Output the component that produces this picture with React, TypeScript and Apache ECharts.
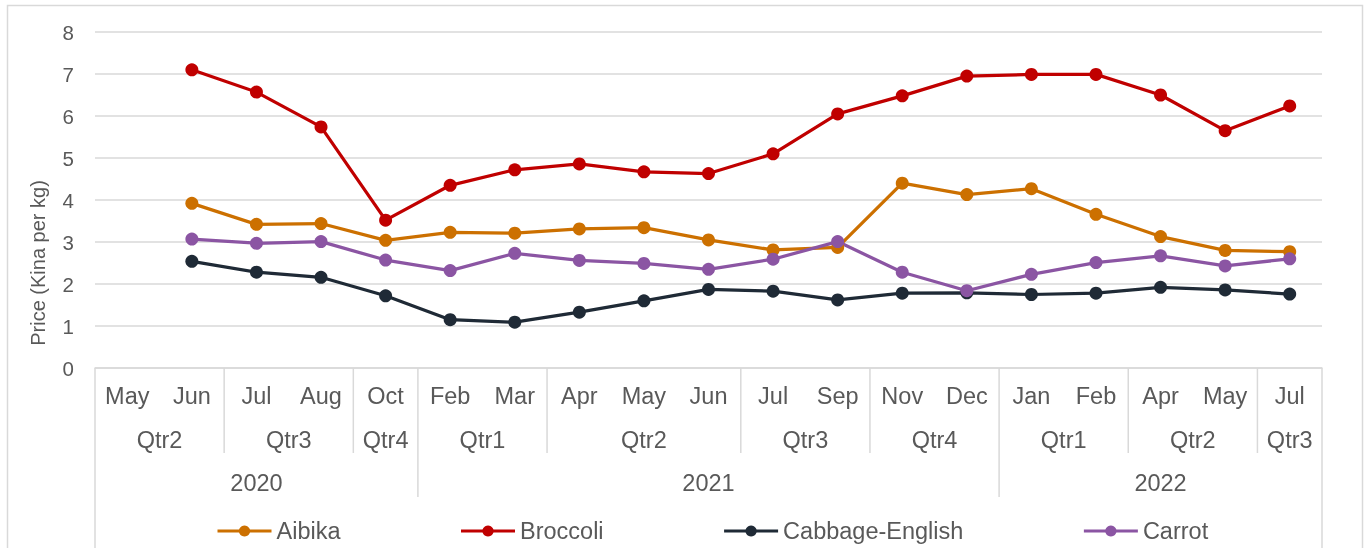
import React, { useEffect, useRef } from "react";
import * as echarts from "echarts";

const months = ["May", "Jun", "Jul", "Aug", "Oct", "Feb", "Mar", "Apr", "May", "Jun", "Jul", "Sep", "Nov", "Dec", "Jan", "Feb", "Apr", "May", "Jul"];
const quarters = ["Qtr2", "Qtr2", "Qtr3", "Qtr3", "Qtr4", "Qtr1", "Qtr1", "Qtr2", "Qtr2", "Qtr2", "Qtr3", "Qtr3", "Qtr4", "Qtr4", "Qtr1", "Qtr1", "Qtr2", "Qtr2", "Qtr3"];
const years = ["2020", "2020", "2020", "2020", "2020", "2021", "2021", "2021", "2021", "2021", "2021", "2021", "2021", "2021", "2022", "2022", "2022", "2022", "2022"];

const aibika = [null, 3.92, 3.42, 3.44, 3.04, 3.23, 3.21, 3.31, 3.34, 3.05, 2.81, 2.87, 4.40, 4.13, 4.27, 3.66, 3.13, 2.80, 2.77];
const broccoli = [null, 7.10, 6.57, 5.74, 3.52, 4.35, 4.72, 4.86, 4.67, 4.63, 5.10, 6.05, 6.48, 6.95, 6.99, 6.99, 6.50, 5.65, 6.24];
const cabbage = [null, 2.54, 2.28, 2.16, 1.72, 1.15, 1.09, 1.33, 1.60, 1.87, 1.83, 1.62, 1.78, 1.79, 1.75, 1.78, 1.92, 1.86, 1.76];
const carrot = [null, 3.07, 2.97, 3.01, 2.57, 2.32, 2.73, 2.56, 2.49, 2.35, 2.59, 3.01, 2.28, 1.84, 2.23, 2.51, 2.67, 2.43, 2.60];

const yTicks = { min: 0, max: 8, interval: 1 };

const FONT = "'Liberation Sans', Arial, sans-serif";
const TEXT = "#595959";
const GRID = "#D9D9D9";

function groups(labels: string[], yearsArr: string[]) {
  const out: { label: string; start: number; end: number }[] = [];
  labels.forEach((l, i) => {
    const last = out[out.length - 1];
    if (last && last.label === l && yearsArr[i] === yearsArr[last.end]) last.end = i;
    else out.push({ label: l, start: i, end: i });
  });
  return out;
}

export default function App() {
  const ref = useRef<HTMLDivElement>(null);
  useEffect(() => {
    if (!ref.current) return;
    const chart = echarts.init(ref.current, undefined, { renderer: "svg" });
    const mk = (name: string, data: (number | null)[], color: string) => ({
      name,
      type: "line",
      data,
      symbol: "circle",
      symbolSize: 13,
      lineStyle: { width: 3.25, color },
      itemStyle: { color },
      connectNulls: false,
    });
    chart.setOption({
      animation: false,
      textStyle: { fontFamily: FONT },
      grid: { left: 95, right: 44, top: 32, bottom: 180, containLabel: false },
      legend: {
        left: 211,
        top: 514,
        itemWidth: 54,
        itemHeight: 14,
        itemGap: 119,
        lineStyle: { width: 3 },
        textStyle: { fontSize: 23.5, color: TEXT, fontFamily: FONT },
        data: ["Aibika", "Broccoli", "Cabbage-English", "Carrot"],
      },
      xAxis: {
        type: "category",
        data: months,
        boundaryGap: true,
        axisLine: { lineStyle: { color: GRID, width: 1.5 } },
        axisTick: { show: false },
        axisLabel: { fontSize: 23.5, color: TEXT, margin: 16, interval: 0, fontFamily: FONT },
      },
      yAxis: {
        type: "value",
        min: yTicks.min,
        max: yTicks.max,
        interval: yTicks.interval,
        axisLine: { show: false },
        axisTick: { show: false },
        splitLine: { lineStyle: { color: GRID, width: 1.5 } },
        axisLabel: { fontSize: 20.5, color: TEXT, margin: 21, fontFamily: FONT },
      },
      series: [
        mk("Aibika", aibika, "#CC7000"),
        mk("Broccoli", broccoli, "#C00000"),
        mk("Cabbage-English", cabbage, "#1F2A36"),
        mk("Carrot", carrot, "#8B55A3"),
      ],
    });

    const px = (i: number) => chart.convertToPixel({ xAxisIndex: 0 }, i) as number;
    const axisY = chart.convertToPixel({ yAxisIndex: 0 }, 0) as number;
    const band = px(1) - px(0);
    const boundary = (i: number) => px(0) + (i - 0.5) * band;
    const n = months.length;

    const elements: any[] = [];
    elements.push({
      type: "rect",
      shape: { x: 7.5, y: 5.5, width: 1355, height: 700 },
      style: { fill: "none", stroke: GRID, lineWidth: 1.5 },
      silent: true,
    });
    const sepLine = (x: number, y2: number) => ({
      type: "line",
      shape: { x1: x, y1: axisY, x2: x, y2 },
      style: { stroke: GRID, lineWidth: 1.5 },
      silent: true,
    });
    for (let i = 0; i <= n; i++) {
      const x = boundary(i);
      if (i === 0 || i === n) elements.push(sepLine(x, 560));
      else if (years[i] !== years[i - 1]) elements.push(sepLine(x, axisY + 129));
      else if (quarters[i] !== quarters[i - 1]) elements.push(sepLine(x, axisY + 85));
    }
    groups(quarters, years).forEach((g) => {
      elements.push({
        type: "text",
        x: (boundary(g.start) + boundary(g.end + 1)) / 2,
        y: axisY + 72,
        style: { text: g.label, fontSize: 23.5, fill: TEXT, align: "center", verticalAlign: "middle", fontFamily: FONT },
        silent: true,
      });
    });
    groups(years, years).forEach((g) => {
      elements.push({
        type: "text",
        x: (boundary(g.start) + boundary(g.end + 1)) / 2,
        y: axisY + 115,
        style: { text: g.label, fontSize: 23.5, fill: TEXT, align: "center", verticalAlign: "middle", fontFamily: FONT },
        silent: true,
      });
    });
    elements.push({
      type: "text",
      x: 38,
      y: 263,
      rotation: Math.PI / 2,
      style: { text: "Price (Kina per kg)", fontSize: 20, fill: TEXT, align: "center", verticalAlign: "middle", fontFamily: FONT },
      silent: true,
    });
    chart.setOption({ graphic: { elements } });

    return () => chart.dispose();
  }, []);
  return <div ref={ref} style={{ position: "fixed", left: 0, top: 0, width: 1366, height: 548 }} />;
}
